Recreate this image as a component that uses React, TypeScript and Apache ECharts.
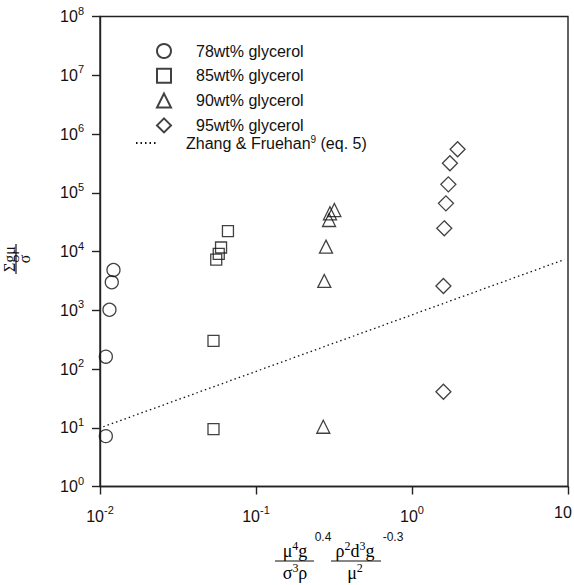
import React, { useEffect, useRef } from "react";
import * as echarts from "echarts";

// ---- data ----
const xExponents = [-2, -1, 0, 1];
const yExponents = [0, 1, 2, 3, 4, 5, 6, 7, 8];

const seriesNames = [
  "78wt% glycerol",
  "85wt% glycerol",
  "90wt% glycerol",
  "95wt% glycerol",
  "Zhang & Fruehan (eq. 5)",
];

const g78X = [0.0122, 0.0119, 0.0115, 0.0109, 0.0109];
const g78Y = [4840, 2990, 1020, 162, 7.2];

const g85X = [0.0534, 0.0534, 0.0556, 0.0577, 0.0597, 0.0661];
const g85Y = [300, 9.5, 7300, 9100, 11700, 22300];

const g90X = [0.318, 0.298, 0.294, 0.281, 0.274, 0.27];
const g90Y = [50800, 44700, 34400, 12100, 3150, 10.4];

const g95X = [1.96, 1.75, 1.71, 1.65, 1.61, 1.59, 1.59];
const g95Y = [550000, 318000, 139000, 66000, 24800, 2590, 41];

const zfX = [0.0105, 9.5];
const zfY = [10.4, 7300];

const pairs = (xs: number[], ys: number[]) => xs.map((x, i) => [x, ys[i]]);

const SANS = "Liberation Sans, Arial, sans-serif";
const SERIF = "Liberation Serif, Times New Roman, serif";
const INK = "#111";

const supRich = (big: number, small: number, shift: number) => ({
  b: { fontFamily: SANS, fontSize: big, color: INK },
  r: { fontFamily: SANS, fontSize: big, color: INK, padding: [0, 10, 0, 0] },
  s: { fontFamily: SANS, fontSize: small, color: INK, padding: [0, 0, shift, 0] },
});

const mathRich = {
  m: { fontFamily: SERIF, fontSize: 18, color: INK },
  s: { fontFamily: SERIF, fontSize: 12, color: INK, padding: [0, 0, 10, 0] },
};

const centered = {
  align: "center",
  verticalAlign: "middle",
  textAlign: "center",
  textVerticalAlign: "middle",
};

export default function App() {
  const ref = useRef<HTMLDivElement>(null);

  useEffect(() => {
    if (!ref.current) return;
    const chart = echarts.init(ref.current, undefined, { renderer: "svg" });

    const markerStyle = { color: "transparent", borderColor: INK, borderWidth: 1.3 };
    const legendText = {
      fontFamily: SANS,
      fontSize: 16,
      lineHeight: 14,
      color: INK,
    };

    const option: any = {
      animation: false,
      backgroundColor: "#fff",
      grid: {
        left: 100,
        right: 6,
        top: 16.5,
        bottom: 98.5,
        outerBoundsMode: "none",
        containLabel: false,
        show: true,
        borderColor: "#222",
        borderWidth: 1.4,
        backgroundColor: "transparent",
      },
      legend: [
        {
          orient: "vertical",
          left: 151,
          top: 38,
          itemWidth: 14,
          itemHeight: 14,
          itemGap: 8.8,
          data: seriesNames.slice(0, 4),
          textStyle: { ...legendText, padding: [0, 0, 0, 20] },
        },
        {
          orient: "vertical",
          left: 130,
          top: 129,
          itemWidth: 21,
          itemHeight: 14,
          data: [
            {
              name: seriesNames[4],
              itemStyle: { color: "transparent", borderColor: "transparent", borderWidth: 0 },
            },
          ],
          textStyle: {
            ...legendText,
            padding: [0, 0, 0, 24],
            rich: {
              n: { fontFamily: SANS, fontSize: 16, color: INK },
              s: { fontFamily: SANS, fontSize: 10, color: INK, padding: [0, 0, 8, 0] },
            },
          },
          formatter: () => "{n|Zhang & Fruehan}{s|9}{n| (eq. 5)}",
        },
      ],
      xAxis: {
        type: "log",
        logBase: 10,
        min: Math.pow(10, xExponents[0]),
        max: Math.pow(10, xExponents[xExponents.length - 1]),
        axisLine: { lineStyle: { color: "#222", width: 1.4 } },
        axisTick: { show: true, inside: false, length: 8, lineStyle: { color: "#222", width: 1.4 } },
        minorTick: { show: false },
        splitLine: { show: false },
        axisLabel: {
          margin: 18,
          formatter: (v: number) => {
            const e = Math.round(Math.log10(v));
            return e === 1 ? "{r|10}" : `{b|10}{s|${e}}`;
          },
          rich: supRich(16, 11, 12),
        },
      },
      yAxis: {
        type: "log",
        logBase: 10,
        min: Math.pow(10, yExponents[0]),
        max: Math.pow(10, yExponents[yExponents.length - 1]),
        axisLine: { lineStyle: { color: "#222", width: 1.4 } },
        axisTick: { show: true, inside: false, length: 8, lineStyle: { color: "#222", width: 1.4 } },
        minorTick: { show: false },
        splitLine: { show: false },
        axisLabel: {
          margin: 16,
          formatter: (v: number) => `{b|10}{s|${Math.round(Math.log10(v))}}`,
          rich: supRich(16, 11, 12),
        },
      },
      series: [
        {
          name: seriesNames[0],
          type: "scatter",
          symbol: "circle",
          symbolSize: 13,
          symbolKeepAspect: true,
          itemStyle: markerStyle,
          data: pairs(g78X, g78Y),
        },
        {
          name: seriesNames[1],
          type: "scatter",
          symbol: "rect",
          symbolSize: 11,
          symbolKeepAspect: true,
          itemStyle: markerStyle,
          data: pairs(g85X, g85Y),
        },
        {
          name: seriesNames[2],
          type: "scatter",
          symbol: "triangle",
          symbolSize: 13,
          symbolKeepAspect: true,
          itemStyle: markerStyle,
          data: pairs(g90X, g90Y),
        },
        {
          name: seriesNames[3],
          type: "scatter",
          symbol: "diamond",
          symbolSize: 15,
          symbolKeepAspect: true,
          itemStyle: markerStyle,
          data: pairs(g95X, g95Y),
        },
        {
          name: seriesNames[4],
          type: "line",
          symbol: "none",
          showSymbol: false,
          itemStyle: { color: INK },
          lineStyle: { color: INK, width: 1.3, type: [1.5, 3] },
          data: pairs(zfX, zfY),
        },
      ],
      graphic: [
        // y-axis title: Σgμ / σ (rotated)
        {
          type: "group",
          x: 16,
          y: 259,
          rotation: Math.PI / 2,
          children: [
            {
              type: "text",
              x: 0,
              y: -7,
              style: { text: "Σgμ", font: `16px ${SERIF}`, fill: INK, ...centered },
            },
            { type: "line", shape: { x1: -15, y1: 0, x2: 15, y2: 0 }, style: { stroke: INK, lineWidth: 1.2 } },
            {
              type: "text",
              x: 0,
              y: 8,
              style: { text: "σ", font: `16px ${SERIF}`, fill: INK, ...centered },
            },
          ],
        },
        // x-axis title
        { type: "text", x: 295, y: 551, style: { text: "{m|μ}{s|4}{m|g}", rich: mathRich, ...centered } },
        { type: "line", shape: { x1: 275, y1: 561, x2: 314, y2: 561 }, style: { stroke: INK, lineWidth: 1.2 } },
        { type: "text", x: 295, y: 573, style: { text: "{m|σ}{s|3}{m|ρ}", rich: mathRich, ...centered } },
        { type: "text", x: 323, y: 537, style: { text: "0.4", font: `12px ${SANS}`, fill: INK, ...centered } },
        { type: "text", x: 355, y: 551, style: { text: "{m|ρ}{s|2}{m|d}{s|3}{m|g}", rich: mathRich, ...centered } },
        { type: "line", shape: { x1: 331, y1: 561, x2: 381, y2: 561 }, style: { stroke: INK, lineWidth: 1.2 } },
        { type: "text", x: 355, y: 573, style: { text: "{m|μ}{s|2}", rich: mathRich, ...centered } },
        { type: "text", x: 393, y: 537, style: { text: "-0.3", font: `12px ${SANS}`, fill: INK, ...centered } },
      ],
    };

    chart.setOption(option);
    return () => chart.dispose();
  }, []);

  return <div ref={ref} style={{ width: 574, height: 585, position: "absolute", left: 0, top: 0 }} />;
}
